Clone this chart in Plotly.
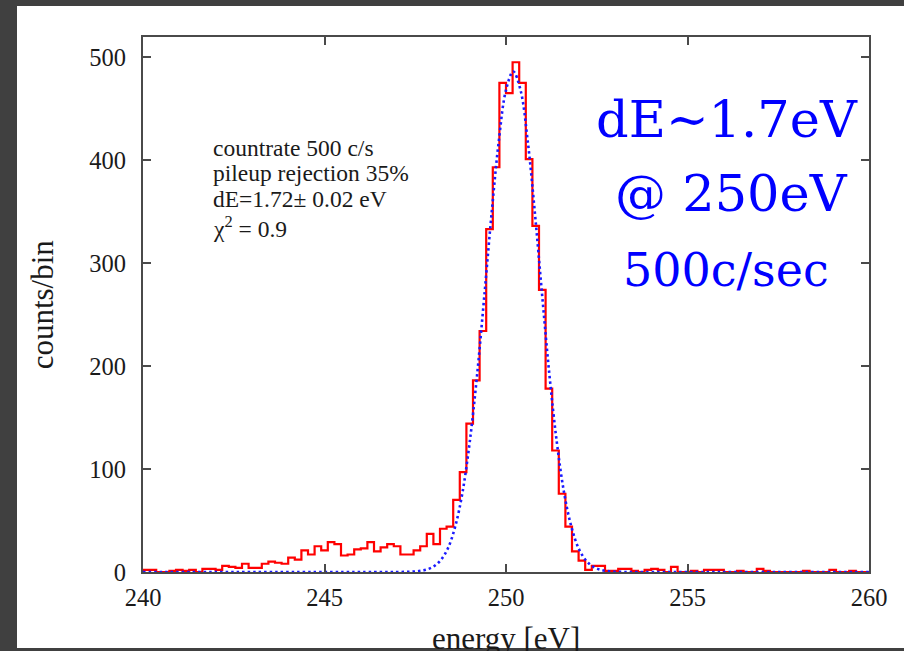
import numpy as np
import plotly.graph_objects as go

# Energy histogram: 110 equal bins between 240 and 260 eV
E_MIN, E_MAX, N_BINS = 240.0, 260.0, 110
counts = [
    2, 2, 0, 0, 1, 2, 1, 2, 0, 3,
    3, 2, 6, 5, 4, 8, 4, 4, 8, 10,
    9, 8, 14, 12, 21, 17, 25, 21, 29, 27,
    16, 17, 22, 23, 29, 20, 24, 27, 25, 17,
    17, 21, 25, 37, 27, 42, 44, 70, 97, 144,
    186, 234, 333, 393, 475, 465, 495, 475, 401, 336,
    274, 178, 118, 76, 44, 20, 11, 2, 6, 6,
    1, 1, 3, 3, 1, 0, 2, 3, 2, 0,
    5, 0, 0, 1, 0, 2, 2, 2, 0, 0,
    1, 0, 0, 3, 1, 0, 0, 0, 0, 0,
    1, 0, 0, 0, 2, 0, 0, 1, 0, 0,
]

# Gaussian fit curve, sampled
fit_energy = [240.0, 246.8, 247.0, 247.2, 247.4, 247.6, 247.8, 248.0, 248.2, 248.4,
              248.6, 248.8, 249.0, 249.2, 249.4, 249.6, 249.8, 250.0, 250.2, 250.4,
              250.6, 250.8, 251.0, 251.2, 251.4, 251.6, 251.8, 252.0, 252.2, 252.4,
              252.6, 252.8, 253.0, 253.2, 253.4, 260.0]
fit_counts = [0, 0, 0.0, 0.1, 0.3, 0.9, 2.2, 5.2, 11.4, 23,
              44, 77, 126, 190, 267, 347, 418, 468, 486, 468,
              418, 347, 267, 190, 126, 77, 44, 23, 11.4, 5.2,
              2.2, 0.9, 0.3, 0.1, 0, 0]

x_ticks = [240, 245, 250, 255, 260]
y_ticks = [0, 100, 200, 300, 400, 500]

info_lines = [
    "countrate 500 c/s",
    "pileup rejection 35%",
    "dE=1.72\u00b1 0.02 eV",
    "\u03c7<sup>2</sup> = 0.9",
]
headline = ["dE\u223c1.7eV", "@ 250eV", "500c/sec"]

# step outline: each bin drawn from its left edge, closing at the last edge
edges = np.linspace(E_MIN, E_MAX, N_BINS + 1)
step_x = list(edges)
step_y = counts + [counts[-1]]

SERIF = "Liberation Serif"
AXIS_COL = "#4a4a4a"
BORDER = "#404040"

fig = go.Figure()
fig.add_trace(go.Scatter(
    x=step_x, y=step_y, mode="lines", line_shape="hv",
    line=dict(color="#ff0000", width=2.2), hoverinfo="skip", showlegend=False))
fig.add_trace(go.Scatter(
    x=fit_energy, y=fit_counts, mode="lines", line_shape="spline",
    line=dict(color="#1a1aff", width=2.6, dash="2.5px,3px"), hoverinfo="skip",
    showlegend=False))

axis_common = dict(
    showgrid=False, zeroline=False, showline=True, linecolor=AXIS_COL, linewidth=2,
    mirror="ticks", ticks="inside", ticklen=8, tickwidth=1.5, tickcolor=AXIS_COL,
    tickfont=dict(family=SERIF, size=24.5, color="#1a1a1a"),
)
fig.update_xaxes(range=[E_MIN, E_MAX], tickvals=x_ticks, ticklabelstandoff=3, **axis_common)
fig.update_yaxes(range=[0, 519.5], tickvals=y_ticks, ticklabelstandoff=10, **axis_common)

annotations = []
# axis titles
annotations.append(dict(text="energy [eV]", x=0.5, y=-0.087, xref="paper", yref="paper",
                        xanchor="center", yanchor="top", showarrow=False,
                        font=dict(family=SERIF, size=31, color="#1a1a1a")))
annotations.append(dict(text="counts/bin", x=-0.138, y=0.5, xref="paper", yref="paper",
                        xanchor="center", yanchor="middle", textangle=-90, showarrow=False,
                        font=dict(family=SERIF, size=31, color="#1a1a1a")))
# fit summary block
for line, yp in zip(info_lines, [0.793, 0.7455, 0.698, 0.645]):
    annotations.append(dict(text=line, x=0.0935, y=yp, xref="paper", yref="paper",
                            xanchor="left", yanchor="middle", showarrow=False,
                            font=dict(family=SERIF, size=23.5, color="#1a1a1a")))
# headline in blue
for line, xp, yp, size in zip(headline, [0.805, 0.8106, 0.803], [0.845, 0.708, 0.5645], [51, 51, 46]):
    annotations.append(dict(text=line, x=xp, y=yp, xref="paper", yref="paper",
                            xanchor="center", yanchor="middle", showarrow=False,
                            font=dict(family="DejaVu Serif", size=size, color="#0000ff")))

# dark frame around the white page
W, H = 904, 651
L, R, T, B = 143, 35, 37, 79
pw, ph = W - L - R, H - T - B

def px_to_paper_x(px):
    return (px - L) / pw

def px_to_paper_y(py):
    return (H - B - py) / ph

shapes = [
    dict(type="rect", xref="paper", yref="paper", layer="above", line_width=0, fillcolor=BORDER,
         x0=px_to_paper_x(0), x1=px_to_paper_x(17), y0=px_to_paper_y(H), y1=px_to_paper_y(0)),
    dict(type="rect", xref="paper", yref="paper", layer="above", line_width=0, fillcolor=BORDER,
         x0=px_to_paper_x(0), x1=px_to_paper_x(W), y0=px_to_paper_y(6), y1=px_to_paper_y(0)),
    dict(type="rect", xref="paper", yref="paper", layer="above", line_width=0, fillcolor=BORDER,
         x0=px_to_paper_x(0), x1=px_to_paper_x(W), y0=px_to_paper_y(H), y1=px_to_paper_y(648)),
]

fig.update_layout(
    width=W, height=H,
    margin=dict(l=L, r=R, t=T, b=B),
    paper_bgcolor="white", plot_bgcolor="white",
    annotations=annotations, shapes=shapes,
)

fig.write_html("out.html")
